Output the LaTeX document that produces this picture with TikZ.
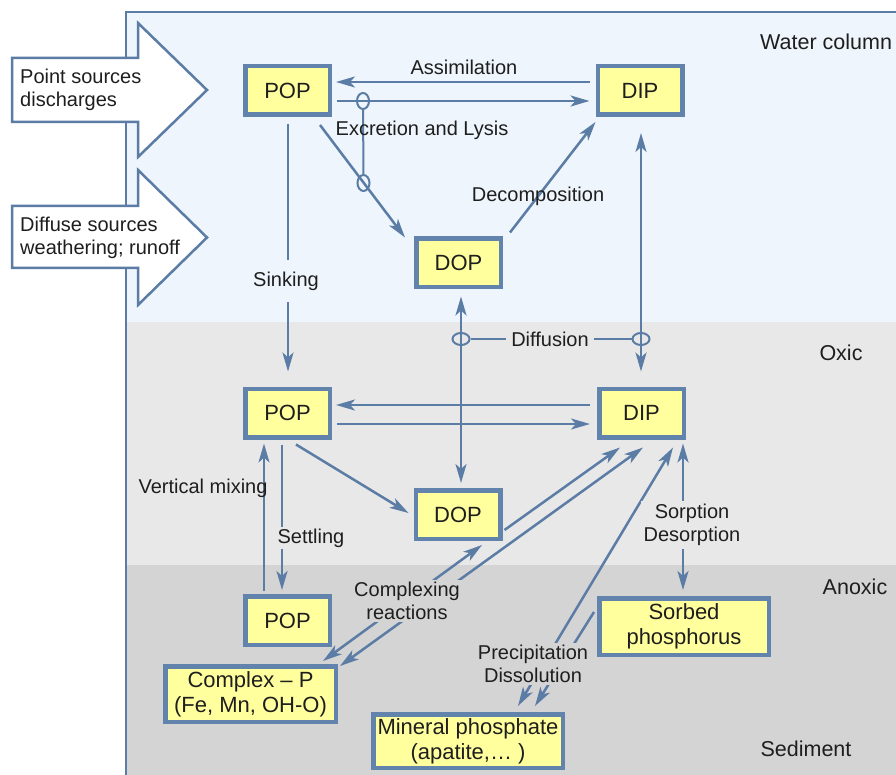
\documentclass[tikz,border=0pt]{standalone}
\usepackage{fontspec}
\setmainfont{Liberation Sans}
\usetikzlibrary{arrows.meta,calc,shapes.geometric}
\definecolor{lineblue}{HTML}{5B7CA5}
\definecolor{boxblue}{HTML}{6283AB}
\definecolor{boxfill}{HTML}{FFFF9E}
\definecolor{waterbg}{HTML}{EEF5FC}
\definecolor{oxicbg}{HTML}{E8E8E8}
\definecolor{anoxbg}{HTML}{D4D4D4}
\definecolor{txt}{HTML}{1E1E1E}
\begin{document}
\begin{tikzpicture}[x=1pt,y=-1pt,
  pbox/.style={draw=boxblue, line width=4.5pt, fill=boxfill, inner sep=0pt, align=center,
    font=\fontsize{22}{25}\selectfont, text=txt},
  sbox/.style={pbox, minimum width=84.5pt, minimum height=48.5pt},
  flow/.style={draw=lineblue, line width=2.5pt, -{Stealth[length=19pt,width=11pt,inset=5pt]}},
  biflow/.style={draw=lineblue, line width=2.5pt,
    {Stealth[length=19pt,width=11pt,inset=5pt]}-{Stealth[length=19pt,width=11pt,inset=5pt]}},
  link/.style={draw=lineblue, line width=2pt},
  ringv/.style={ellipse, draw=lineblue, line width=2pt, inner sep=0pt, minimum width=12pt, minimum height=16pt},
  ringh/.style={ellipse, draw=lineblue, line width=2pt, inner sep=0pt, minimum width=17pt, minimum height=12pt},
  lbl/.style={font=\fontsize{20}{23}\selectfont, text=txt, align=center},
  zlbl/.style={font=\fontsize{21.5}{24}\selectfont, text=txt, inner sep=0pt},
  bigarrow/.style={draw=lineblue, line width=2.5pt, fill=white, line join=miter}
]
\useasboundingbox (0,0) rectangle (896,775);
% zones
\fill[white] (0,0) rectangle (896,775);
\fill[waterbg] (126,12) rectangle (900,322);
\fill[oxicbg] (126,322) rectangle (900,565);
\fill[anoxbg] (126,565) rectangle (900,780);
\draw[lineblue, line width=2pt] (126,780) -- (126,12) -- (900,12);

% source arrows
\draw[bigarrow] (12,58) -- (138,58) -- (138,23) -- (207,90) -- (138,157) -- (138,122) -- (12,122) -- cycle;
\draw[bigarrow] (12,206) -- (138,206) -- (138,170) -- (207,237.5) -- (138,305) -- (138,268) -- (12,268) -- cycle;
\node[lbl, align=left, anchor=west, inner sep=0pt] (tpoint) at (20,90) {Point sources\\discharges};
\node[lbl, align=left, anchor=west, inner sep=0pt] (tdiff) at (20,237.5) {Diffuse sources\\weathering; runoff};

% boxes
\node[sbox] (pop1) at (287.5,90.5) {POP};
\node[sbox] (dip1) at (640,90.5) {DIP};
\node[sbox] (dop1) at (458.5,263) {DOP};
\node[sbox] (pop2) at (287.5,413) {POP};
\node[sbox] (dip2) at (641.5,413) {DIP};
\node[sbox] (dop2) at (458,514.5) {DOP};
\node[sbox] (pop3) at (287.5,620.5) {POP};
\node[pbox, minimum width=170.5pt, minimum height=55.5pt] (cplx) at (250.5,694) {Complex – P\\(Fe, Mn, OH-O)};
\node[pbox, minimum width=189.5pt, minimum height=53.5pt] (mine) at (468,741) {Mineral phosphate\\(apatite,… )};
\node[pbox, minimum width=169.5pt, minimum height=56.5pt] (sorb) at (684,626.5) {Sorbed\\phosphorus};

% water column connectors
\draw[flow] ($(dip1.west)+(-6,-8.5)$) -- ($(pop1.east)+(4,-8.5)$);
\draw[flow] ($(pop1.east)+(5,10.5)$) -- ($(dip1.west)+(-6,10.5)$);
\draw[flow] ($(pop1.south east)+(-12,8)$) -- ($(dop1.north west)+(-9,1)$);
\node[ringv] (r1) at (363,101) {};
\node[ringv] (r2) at (363.5,183) {};
\draw[link] (r1) -- (r2);
\draw[flow] ($(dop1.north east)+(7,-4)$) -- ($(dip1.south west)+(0,5)$);
\draw[flow] ($(pop1.south)+(0.5,7)$) -- ($(pop2.north)+(0.5,-15)$);
\draw[biflow] ($(dip1.south)+(1,16)$) -- ($(dip2.north)+(-0.5,-15)$);
\draw[biflow] ($(dop1.south)+(2.5,7)$) -- ($(dop2.north)+(3,-5)$);
\node[ringh] (d1) at (461,339) {};
\node[ringh] (d2) at (641,339) {};
\draw[link] (d1) -- (d2);

% oxic connectors
\draw[flow] ($(dip2.west)+(-7,-8)$) -- ($(pop2.east)+(4,-8)$);
\draw[flow] ($(pop2.east)+(5,11)$) -- ($(dip2.west)+(-7,11)$);
\draw[flow] ($(pop2.south)+(8.5,5)$) -- ($(dop2.west)+(-5,-1.5)$);
\draw[flow] ($(pop3.north)+(-23.5,-3)$) -- ($(pop2.south)+(-23.5,4)$);
\draw[flow] ($(pop2.south)+(-5.5,5)$) -- ($(pop3.north)+(-5.5,-4)$);

% sediment connectors
\draw[biflow] ($(cplx.north east)+(-15,-3)$) -- ($(dop2.south)+(24,4)$);
\draw[flow] ($(dop2.south east)+(2,-11)$) -- ($(dip2.south)+(-21.5,8)$);
\draw[biflow] ($(cplx.north east)+(2,2)$) -- ($(dip2.south)+(1.5,8)$);
\draw[biflow] ($(mine.north)+(50,-6)$) -- ($(dip2.south east)+(-13,8)$);
\draw[flow] ($(sorb.west)+(-3,-14.5)$) -- ($(mine.north)+(67,-6)$);
\draw[biflow] ($(dip2.south east)+(-3,4)$) -- ($(sorb.north)+(-1,-6)$);

% labels
\node[lbl] (lassim) at (464,67) {Assimilation};
\node[lbl] (lexcr) at (422,130) {Excretion and Lysis};
\node[lbl] (ldecomp) at (538,196) {Decomposition};
\node[lbl, fill=waterbg, inner xsep=2pt, inner ysep=12pt] (lsink) at (286,281) {Sinking};
\node[lbl, fill=oxicbg, inner xsep=5pt, inner ysep=2pt] (ldiff) at (550,339) {Diffusion};
\node[lbl] (lvmix) at (203,488) {Vertical mixing};
\node[lbl, fill=oxicbg, inner sep=2pt] (lsettle) at (311,538) {Settling};
\node[lbl, fill=oxicbg, inner sep=3pt] (lsorp) at (692,525) {Sorption\\Desorption};
\node[lbl, fill=anoxbg, inner sep=2pt] (lcomplex) at (407,601) {Complexing\\reactions};
\node[lbl, fill=anoxbg, inner sep=2pt] (lprecip) at (533,664) {Precipitation\\Dissolution};

% zone labels
\node[zlbl, anchor=west] (zwater) at (760,42) {Water column};
\node[zlbl] (zoxic) at (841,353) {Oxic};
\node[zlbl] (zanox) at (855,587) {Anoxic};
\node[zlbl] (zsed) at (806,749) {Sediment};
\end{tikzpicture}
\end{document}
